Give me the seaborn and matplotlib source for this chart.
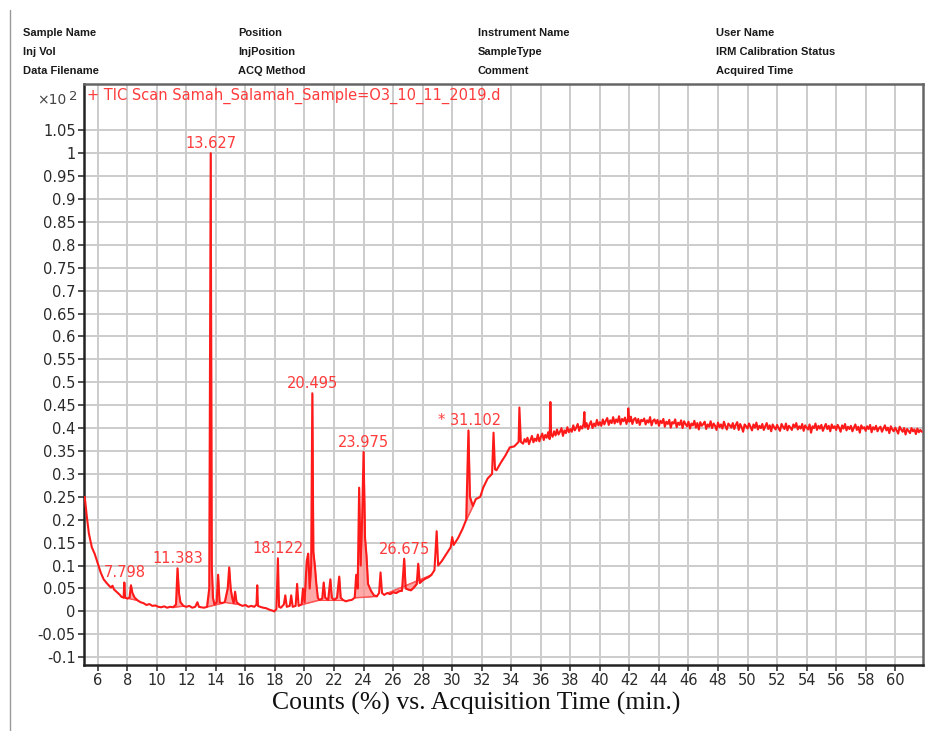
import numpy as np
import pandas as pd
import matplotlib
matplotlib.use("Agg")
import matplotlib.pyplot as plt
import seaborn as sns

# ---------------- data ----------------
early_time = [5.12, 5.25, 5.4, 5.6, 5.8, 6.0, 6.2, 6.4, 6.6, 6.8, 6.9, 7.0, 7.1, 7.3, 7.5,
              7.6, 7.75, 7.8, 7.85, 8.0, 8.15, 8.25, 8.35, 8.5, 8.7, 8.9, 9.1, 9.3, 9.5, 9.7,
              9.9, 10.1, 10.3, 10.5, 10.7, 10.9, 11.1, 11.3, 11.4, 11.5, 11.6, 11.8, 12.0, 12.2,
              12.4, 12.6, 12.75, 12.85, 13.0, 13.2, 13.4, 13.55, 13.65, 13.72, 13.8, 13.9, 14.05,
              14.15, 14.25, 14.4, 14.6, 14.8, 14.9, 15.0, 15.1, 15.2, 15.3, 15.4, 15.6, 15.8,
              16.0, 16.2, 16.4, 16.6, 16.75, 16.8, 16.85, 17.0, 17.2, 17.4, 17.6, 17.8, 17.95,
              18.1, 18.2, 18.28, 18.4, 18.6, 18.7, 18.8, 19.0, 19.1, 19.2, 19.4, 19.5, 19.6,
              19.8, 19.9, 20.0, 20.15, 20.25, 20.35, 20.45, 20.53, 20.6, 20.7, 20.8, 20.9, 21.0,
              21.2, 21.3, 21.4, 21.6, 21.75, 21.85, 22.0, 22.2, 22.35, 22.45, 22.6, 22.8, 23.0,
              23.2, 23.4, 23.5, 23.6, 23.7, 23.8, 23.9, 24.0, 24.1, 24.2, 24.3, 24.5, 24.7, 24.9,
              25.05, 25.15, 25.25, 25.4, 25.6, 25.8, 26.0, 26.2, 26.4, 26.6, 26.75, 26.85, 27.0,
              27.2, 27.4, 27.6, 27.7, 27.8, 28.0, 28.2, 28.4, 28.6, 28.8, 28.95, 29.05, 29.3,
              29.6, 29.9, 30.0, 30.1, 30.4, 30.7, 30.95, 31.1, 31.2, 31.4, 31.6, 31.9, 32.1,
              32.4, 32.7, 32.8, 32.9, 33.0, 33.3, 33.6, 33.9, 34.2, 34.5, 34.55, 34.65]
early_counts = [0.25, 0.21, 0.17, 0.14, 0.125, 0.105, 0.085, 0.07, 0.062, 0.055, 0.052, 0.056, 0.048, 0.042, 0.036,
                0.032, 0.030, 0.063, 0.030, 0.028, 0.030, 0.057, 0.040, 0.030, 0.024, 0.020, 0.018, 0.014, 0.016, 0.012,
                0.013, 0.010, 0.009, 0.011, 0.008, 0.010, 0.009, 0.015, 0.094, 0.040, 0.020, 0.012, 0.010, 0.012,
                0.008, 0.010, 0.020, 0.010, 0.009, 0.008, 0.010, 0.050, 1.0, 0.10, 0.030, 0.015, 0.020,
                0.080, 0.020, 0.018, 0.020, 0.050, 0.096, 0.050, 0.030, 0.018, 0.043, 0.020, 0.015, 0.012,
                0.014, 0.010, 0.012, 0.010, 0.015, 0.057, 0.012, 0.010, 0.008, 0.007, 0.004, 0.002, 0.0,
                0.005, 0.116, 0.010, 0.008, 0.015, 0.035, 0.010, 0.012, 0.035, 0.010, 0.012, 0.060, 0.012,
                0.015, 0.050, 0.020, 0.110, 0.126, 0.050, 0.100, 0.476, 0.130, 0.100, 0.060, 0.030, 0.025,
                0.028, 0.063, 0.030, 0.025, 0.070, 0.030, 0.025, 0.030, 0.076, 0.030, 0.025, 0.022, 0.024,
                0.025, 0.030, 0.080, 0.050, 0.270, 0.100, 0.200, 0.348, 0.160, 0.120, 0.060, 0.045, 0.035, 0.033,
                0.040, 0.085, 0.040, 0.036, 0.040, 0.038, 0.042, 0.040, 0.044, 0.045, 0.115, 0.050, 0.048,
                0.046, 0.052, 0.060, 0.104, 0.062, 0.068, 0.072, 0.075, 0.080, 0.090, 0.175, 0.100, 0.110,
                0.125, 0.140, 0.162, 0.145, 0.160, 0.180, 0.200, 0.395, 0.250, 0.230, 0.245, 0.250, 0.270,
                0.290, 0.300, 0.390, 0.310, 0.308, 0.325, 0.340, 0.358, 0.360, 0.370, 0.445, 0.370]

late_counts = [0.366, 0.376,
               0.370, 0.379, 0.365, 0.374, 0.383, 0.369, 0.377, 0.372, 0.386, 0.371,
               0.380, 0.388, 0.374, 0.385, 0.379, 0.391, 0.376, 0.387, 0.381, 0.393,
               0.384, 0.397, 0.386, 0.392, 0.400, 0.383, 0.395, 0.389, 0.402, 0.391,
               0.398, 0.392, 0.406, 0.395, 0.401, 0.409, 0.394, 0.404, 0.399, 0.410,
               0.402, 0.411, 0.398, 0.408, 0.415, 0.400, 0.410, 0.404, 0.418, 0.406,
               0.413, 0.405, 0.419, 0.408, 0.416, 0.422, 0.407, 0.417, 0.411, 0.424,
               0.410, 0.419, 0.413, 0.426, 0.408, 0.420, 0.415, 0.423, 0.409, 0.421,
               0.414, 0.425, 0.409, 0.419, 0.422, 0.411, 0.420, 0.407, 0.418, 0.415,
               0.421, 0.408, 0.417, 0.412, 0.424, 0.406, 0.416, 0.419, 0.410, 0.418,
               0.405, 0.416, 0.411, 0.420, 0.403, 0.414, 0.409, 0.418, 0.401, 0.413,
               0.410, 0.419, 0.402, 0.412, 0.407, 0.417, 0.400, 0.415, 0.409, 0.404,
               0.414, 0.399, 0.410, 0.406, 0.416, 0.401, 0.411, 0.397, 0.413, 0.405,
               0.409, 0.414, 0.398, 0.408, 0.403, 0.415, 0.400, 0.410, 0.405, 0.396,
               0.412, 0.402, 0.408, 0.399, 0.414, 0.404, 0.397, 0.410, 0.406, 0.401,
               0.411, 0.398, 0.407, 0.413, 0.396, 0.409, 0.402, 0.392, 0.408, 0.404,
               0.399, 0.410, 0.403, 0.395, 0.408, 0.401, 0.412, 0.397, 0.405, 0.400,
               0.409, 0.396, 0.404, 0.411, 0.398, 0.406, 0.393, 0.408, 0.402, 0.397,
               0.407, 0.400, 0.394, 0.409, 0.403, 0.398, 0.410, 0.395, 0.405, 0.401,
               0.396, 0.408, 0.402, 0.411, 0.397, 0.404, 0.399, 0.409, 0.394, 0.406,
               0.401, 0.397, 0.408, 0.390, 0.404, 0.400, 0.410, 0.396, 0.405, 0.399,
               0.407, 0.394, 0.402, 0.409, 0.398, 0.405, 0.393, 0.408, 0.400, 0.404,
               0.396, 0.407, 0.401, 0.392, 0.406, 0.399, 0.409, 0.395, 0.403, 0.398,
               0.405, 0.393, 0.401, 0.408, 0.396, 0.403, 0.390, 0.406, 0.399, 0.402,
               0.394, 0.404, 0.398, 0.407, 0.391, 0.402, 0.397, 0.405, 0.393, 0.400,
               0.403, 0.392, 0.399, 0.406, 0.395, 0.401, 0.389, 0.404, 0.397, 0.393,
               0.401, 0.395, 0.388, 0.403, 0.397, 0.392, 0.400, 0.386, 0.398, 0.394,
               0.389, 0.400, 0.393, 0.397, 0.387, 0.399, 0.391, 0.396, 0.392]
late_start, late_step = 34.8, 0.1

late_spike_time = [36.65, 38.95, 41.92]
late_spike_counts = [0.457, 0.435, 0.443]

peak_labels = ["7.798", "11.383", "13.627", "18.122", "20.495", "23.975", "26.675", "* 31.102"]
peak_time = [7.8, 11.4, 13.65, 18.2, 20.53, 24.0, 26.75, 31.1]
peak_height = [0.063, 0.094, 1.0, 0.116, 0.476, 0.348, 0.115, 0.395]

integration_windows = [(7.6, 8.7), (11.1, 11.8), (13.4, 14.4), (14.6, 15.6), (19.8, 21.0),
                       (21.0, 22.6), (23.4, 24.9), (25.6, 28.6), (30.95, 31.4)]

header_rows = [["Sample Name", "Position", "Instrument Name", "User Name"],
               ["Inj Vol", "InjPosition", "SampleType", "IRM Calibration Status"],
               ["Data Filename", "ACQ Method", "Comment", "Acquired Time"]]

x_ticks = list(range(6, 61, 2))
y_ticks = [round(-0.1 + 0.05 * i, 2) for i in range(24)]

# ---------------- assemble ----------------
late_time = [round(late_start + late_step * i, 2) for i in range(len(late_counts))]
df = pd.DataFrame({"time": early_time + late_time + late_spike_time,
                   "counts": early_counts + late_counts + late_spike_counts})
df = df.sort_values("time").reset_index(drop=True)

# ---------------- figure ----------------
W, H = 949, 731
fig = plt.figure(figsize=(W / 100, H / 100), dpi=100)
sns.set_style("white")
plt.rcParams["font.family"] = ["DejaVu Sans"]

ax = fig.add_axes([84 / W, 1 - 665 / H, (923 - 84) / W, (665 - 84) / H])
ax.set_xlim(5.07, 61.88)
ax.set_ylim(-0.117, 1.151)

RED = "#ff1a1a"
t = df["time"].to_numpy()
c = df["counts"].to_numpy()
for (a, b) in integration_windows:
    m = (t >= a - 1e-9) & (t <= b + 1e-9)
    tt, cc = t[m], c[m]
    base = cc[0] + (cc[-1] - cc[0]) * (tt - tt[0]) / (tt[-1] - tt[0])
    ax.fill_between(tt, base, cc, color="#ff8c8c", alpha=0.75, lw=0.6, edgecolor="#ff3030", zorder=2)
    ax.plot([tt[0], tt[-1]], [cc[0], cc[-1]], color="#ff4d4d", lw=0.8, zorder=2)

sns.lineplot(data=df, x="time", y="counts", ax=ax, color=RED, lw=1.5,
             estimator=None, sort=False, zorder=3)

ax.set_xticks(x_ticks)
ax.set_yticks(y_ticks)
ax.grid(True, color="#cccccc", lw=1.4, zorder=0)
ax.set_axisbelow(True)
ax.set_xticklabels([str(v) for v in x_ticks])
ax.set_yticklabels([f"{v:g}" for v in y_ticks])
ax.tick_params(axis="both", direction="out", length=4, width=1.2, color="#333333",
               labelsize=10.5, labelcolor="#2a2a2a", pad=2, left=True, bottom=True)
ax.set_xlabel("")
ax.set_ylabel("")
for s in ["left", "bottom"]:
    ax.spines[s].set_color("#222222")
    ax.spines[s].set_linewidth(1.8)
for s in ["top", "right"]:
    ax.spines[s].set_color("#666666")
    ax.spines[s].set_linewidth(1.8)

for lab, pt, ph in zip(peak_labels, peak_time, peak_height):
    dx = 0.1 if lab.startswith("*") else 0.0
    ax.text(pt + dx, ph + 0.021, lab, color="#ff3b3b", fontsize=10.5,
            ha="center", va="center", zorder=4)

ax.text(0.004, 0.98, "+ TIC Scan Samah_Salamah_Sample=O3_10_11_2019.d",
        transform=ax.transAxes, color="#ff3b3b", fontsize=10.5, ha="left", va="center")

fig.text(37 / W, 1 - 100 / H, "×10", fontsize=10, color="#444444", ha="left", va="center")
fig.text(69 / W, 1 - 96 / H, "2", fontsize=9.5, color="#444444", ha="left", va="center")

col_x = [23, 238, 478, 716]
row_y = [33, 52, 71]
for r, row in enumerate(header_rows):
    for cidx, txt in enumerate(row):
        fig.text(col_x[cidx] / W, 1 - row_y[r] / H, txt, fontsize=8, fontweight="bold",
                 color="#1a1a1a", ha="left", va="center",
                 family=["Liberation Sans", "DejaVu Sans"])

fig.text(476 / W, 1 - 703 / H, "Counts (%) vs. Acquisition Time (min.)",
         fontsize=18.5, family=["Liberation Serif", "DejaVu Serif"], ha="center", va="center",
         color="#111111")

fig.add_artist(plt.Line2D([10 / W, 10 / W], [0, 1 - 10 / H], transform=fig.transFigure,
                          color="#999999", lw=1.0))

fig.savefig("out.png", dpi=100)
